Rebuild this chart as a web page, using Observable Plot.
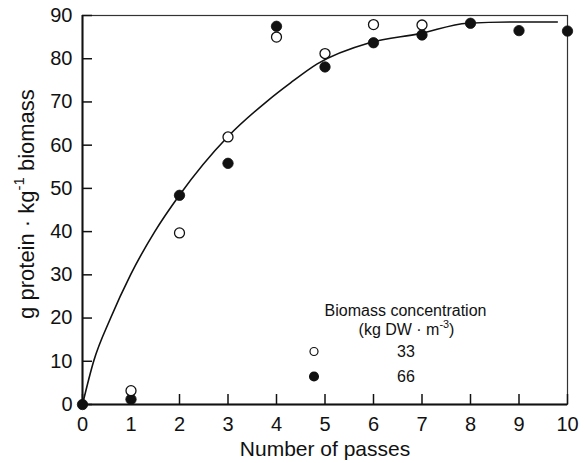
<!DOCTYPE html>
<html>
<head>
<meta charset="utf-8">
<script src="https://cdn.jsdelivr.net/npm/d3@7"></script>
<script src="https://cdn.jsdelivr.net/npm/@observablehq/plot@0.6"></script>
<style>
  body { margin: 0; background: #fff; }
  #chart svg { display: block; }
</style>
</head>
<body>
<div id="chart"></div>
<script>
// Protein released per kg biomass vs. number of homogenizer passes
const passes33 = [1, 2, 3, 4, 5, 6, 7];
const protein33 = [3.2, 39.7, 61.9, 85.0, 81.2, 87.9, 87.8];

const passes66 = [0, 1, 2, 3, 4, 5, 6, 7, 8, 9, 10];
const protein66 = [0, 1.2, 48.4, 55.8, 87.5, 78.1, 83.7, 85.5, 88.2, 86.5, 86.4];

// Fitted trend curve
const fitPasses = [0, 0.23, 0.58, 0.99, 1.49, 1.99, 3.0, 3.81, 4.29, 4.84, 5.92, 6.95, 7.94, 8.9, 9.79];
const fitProtein = [0, 10, 20, 30, 40, 48.3, 62, 70.2, 74.4, 78.8, 83.7, 85.8, 88.2, 88.5, 88.5];

const xTicks = [0, 1, 2, 3, 4, 5, 6, 7, 8, 9, 10];
const yTicks = [0, 10, 20, 30, 40, 50, 60, 70, 80, 90];

const xTitle = "Number of passes";
const yTitleParts = ["g protein · kg", "-1", " biomass"];
const legendTitle = "Biomass concentration";
const legendUnitParts = ["(kg DW · m", "-3", ")"];
const legendLabels = ["33", "66"];

const W = 585, H = 463;
const mL = 82, mR = 18, mT = 15, mB = 59;
const innerW = W - mL - mR, innerH = H - mT - mB;
const tickLen = 10;
const tickFont = 20, titleFont = 21, yTitleFont = 22, legendFont = 16;
const ink = "#111";

const s33 = passes33.map((x, i) => ({x, y: protein33[i]}));
const s66 = passes66.map((x, i) => ({x, y: protein66[i]}));
const fit = fitPasses.map((x, i) => ({x, y: fitProtein[i]}));

const join = parts => parts.join("");

const chart = Plot.plot({
  width: W,
  height: H,
  marginLeft: mL,
  marginRight: mR,
  marginTop: mT,
  marginBottom: mB,
  style: {fontFamily: "'Liberation Sans', Arial, sans-serif", color: ink, background: "#fff"},
  x: {domain: [0, 10]},
  y: {domain: [0, 90]},
  marks: [
    Plot.frame({stroke: "#333", strokeWidth: 1.2}),
    Plot.ruleX([0], {stroke: ink, strokeWidth: 2}),
    Plot.ruleY([0], {stroke: ink, strokeWidth: 2}),
    // inward-pointing ticks
    Plot.tickX(xTicks, {x: d => d, insetTop: innerH - tickLen, stroke: ink, strokeWidth: 1.5}),
    Plot.tickY(yTicks, {y: d => d, insetRight: innerW - tickLen, stroke: ink, strokeWidth: 1.5}),
    Plot.axisX({ticks: xTicks, tickSize: 0, tickPadding: 12, label: null, fontSize: tickFont, fill: ink}),
    Plot.axisY({ticks: yTicks, tickSize: 0, tickPadding: 10, label: null, fontSize: tickFont, fill: ink}),
    // fitted curve
    Plot.line(fit, {x: "x", y: "y", curve: "monotone-x", stroke: ink, strokeWidth: 1.6}),
    // data
    Plot.dot(s66, {x: "x", y: "y", r: 5.2, fill: ink, stroke: ink, strokeWidth: 0.8}),
    Plot.dot(s33, {x: "x", y: "y", r: 5, fill: "#fff", stroke: ink, strokeWidth: 1.3}),
    // axis titles
    Plot.text([xTitle], {text: d => d, frameAnchor: "bottom", lineAnchor: "bottom", dy: 51, fontSize: titleFont, fill: ink}),
    Plot.text([join(yTitleParts)], {text: d => d, frameAnchor: "left", rotate: -90, lineAnchor: "middle", textAnchor: "middle", dx: -56, dy: -6, fontSize: yTitleFont, fill: ink}),
    // legend
    Plot.text([legendTitle], {text: d => d, frameAnchor: "bottom-left", lineAnchor: "bottom", textAnchor: "middle", dx: 323, dy: -89, fontSize: legendFont, fill: ink}),
    Plot.text([join(legendUnitParts)], {text: d => d, frameAnchor: "bottom-left", lineAnchor: "bottom", textAnchor: "middle", dx: 324, dy: -70, fontSize: legendFont, fill: ink}),
    Plot.dot([legendLabels[0]], {x: null, y: null, frameAnchor: "bottom-left", dx: 231.5, dy: -53, r: 4, fill: "#fff", stroke: ink, strokeWidth: 1.2}),
    Plot.text([legendLabels[0]], {text: d => d, frameAnchor: "bottom-left", lineAnchor: "middle", textAnchor: "middle", dx: 323.5, dy: -53, fontSize: legendFont, fill: ink}),
    Plot.dot([legendLabels[1]], {x: null, y: null, frameAnchor: "bottom-left", dx: 231.5, dy: -28, r: 4.3, fill: ink, stroke: ink}),
    Plot.text([legendLabels[1]], {text: d => d, frameAnchor: "bottom-left", lineAnchor: "middle", textAnchor: "middle", dx: 323.5, dy: -28, fontSize: legendFont, fill: ink})
  ]
});

// Turn the exponent part of unit labels into raised, smaller tspans
function superscript(svg, parts, size, lift) {
  const full = join(parts);
  const supSize = size * 0.68;
  const rise = size * lift;
  svg.querySelectorAll("text").forEach(t => {
    if (t.textContent !== full) return;
    const sel = d3.select(t);
    sel.text(null);
    sel.append("tspan").text(parts[0]);
    sel.append("tspan").attr("font-size", supSize).attr("dy", -rise).text(parts[1]);
    sel.append("tspan").attr("dy", rise).text(parts[2]);
  });
}
superscript(chart, yTitleParts, yTitleFont, 0.45);
superscript(chart, legendUnitParts, legendFont, 0.38);

document.getElementById("chart").appendChild(chart);
</script>
</body>
</html>
